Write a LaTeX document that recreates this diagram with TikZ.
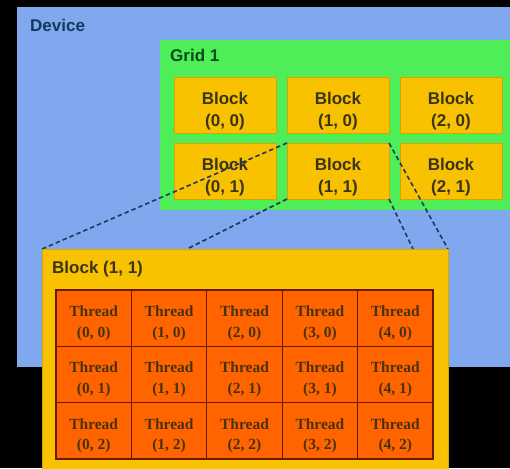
\documentclass[tikz,border=0pt]{standalone}
\usepackage{fontspec}
\setmainfont{Liberation Sans}
\newfontfamily\serifb{Liberation Serif}
\definecolor{devc}{HTML}{80A8EE}
\definecolor{gridc}{HTML}{4DEE58}
\definecolor{blockc}{HTML}{F8C200}
\definecolor{blockedge}{HTML}{D8A400}
\definecolor{threadc}{HTML}{FF6400}
\definecolor{threadedge}{HTML}{6A1A00}
\definecolor{blocktext}{HTML}{3A3418}
\definecolor{threadtext}{HTML}{4A3208}
\definecolor{devtext}{HTML}{0D3D5A}
\definecolor{gridtext}{HTML}{0B4A1A}
\definecolor{linkc}{HTML}{22385E}
\begin{document}
\begin{tikzpicture}[x=1pt,y=-1pt,
  box/.style={anchor=north west, inner sep=0pt, outer sep=0pt},
  lbl/.style={anchor=base west, inner sep=0pt, font=\fontsize{17}{20}\selectfont\bfseries},
  blockbox/.style={box, fill=blockc, draw=blockedge, line width=0.8pt, minimum width=102pt, minimum height=56pt},
  blocktxt/.style={inner sep=0pt, align=center, font=\fontsize{17}{22}\selectfont\bfseries, text=blocktext},
  threadbox/.style={box, fill=threadc, draw=threadedge, line width=1.2pt, minimum width=75.4pt, minimum height=56.33pt},
  threadtxt/.style={inner sep=0pt, align=center, font=\serifb\fontsize{15.5}{20.5}\selectfont\bfseries, text=threadtext},
  link/.style={draw=linkc, dash pattern=on 4.5pt off 3pt, line width=1.6pt}]
\fill[black] (0,0) rectangle (510,468);
\useasboundingbox (0,0) rectangle (510,468);
% device
\node[box, fill=devc, minimum width=495pt, minimum height=360pt] (device) at (17,7) {};
\node[lbl, text=devtext] (devlbl) at (30,32) {Device};
% grid
\node[box, fill=gridc, minimum width=352pt, minimum height=170pt] (grid) at (160,40) {};
\node[lbl, text=gridtext] (gridlbl) at (170,62) {Grid 1};
% blocks
\foreach \c/\x in {0/174,1/287,2/400} {
  \foreach \r/\y in {0/77,1/143} {
    \node[blockbox] (b\c\r) at (\x,\y) {};
    \node[blocktxt] (bt\c\r) at ([yshift=-6pt]b\c\r.center) {Block\\(\c, \r)};
  }
}
% link end points
\coordinate (p1) at (42,249);
\coordinate (p2) at (187,249);
\coordinate (p3) at (413,249);
\coordinate (p4) at (448,249);
\draw[link] (b11.north west) -- (p1);
\draw[link] (b11.south west) -- (p2);
\draw[link] (b11.south east) -- (p3);
\draw[link] (b11.north east) -- (p4);
% expanded block
\node[box, fill=blockc, draw=blockedge, line width=0.8pt, minimum width=406pt, minimum height=225pt] (panel) at (42,249) {};
\node[lbl, text=blocktext] (panellbl) at (52,273) {Block (1, 1)};
% threads
\foreach \c in {0,...,4} {
  \foreach \r in {0,1,2} {
    \node[threadbox] (t\c\r) at ({56+75.4*\c},{290+56.33*\r}) {};
    \node[threadtxt] (tt\c\r) at ([yshift=-5pt]t\c\r.center) {Thread\\(\c, \r)};
  }
}
\end{tikzpicture}
\end{document}
